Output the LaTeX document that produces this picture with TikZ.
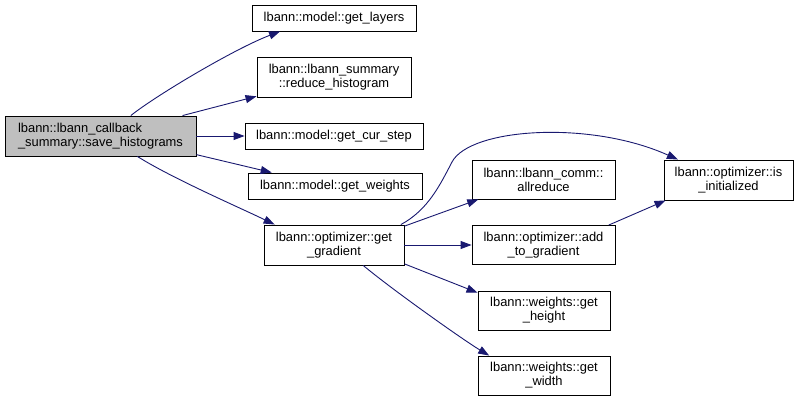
\documentclass[tikz,border=0pt]{standalone}
\usepackage{fontspec}
\setmainfont{Liberation Sans}
\usetikzlibrary{arrows.meta}
\definecolor{edgeblue}{HTML}{191970}
\definecolor{rootgray}{HTML}{BFBFBF}
\tikzset{
  fn/.style={draw=black, line width=0.9pt, fill=white, align=center, inner sep=0pt,
    font=\fontsize{12.9}{14}\selectfont},
  call/.style={draw=edgeblue, line width=0.9pt, -{Triangle[length=11pt,width=8pt,fill=edgeblue]}}
}
\begin{document}
\begin{tikzpicture}[x=1pt,y=-1pt]
\useasboundingbox (0,0) rectangle (803,401);
% functions
\node[fn, fill=rootgray, align=left, minimum width=191pt, minimum height=40pt] (save) at (100.5,136)
  {lbann::lbann\_callback\\\_summary::save\_histograms};
\node[fn, minimum width=164pt, minimum height=26pt] (layers) at (334,18) {lbann::model::get\_layers};
\node[fn, minimum width=154pt, minimum height=40pt] (reduce) at (334,77) {lbann::lbann\_summary\\::reduce\_histogram};
\node[fn, minimum width=178pt, minimum height=26pt] (curstep) at (334,136) {lbann::model::get\_cur\_step};
\node[fn, minimum width=174pt, minimum height=26pt] (weights) at (335,186) {lbann::model::get\_weights};
\node[fn, minimum width=140pt, minimum height=40pt] (gradient) at (334,245) {lbann::optimizer::get\\\_gradient};
\node[fn, minimum width=143pt, minimum height=39pt] (allreduce) at (543.5,179.5) {lbann::lbann\_comm::\\allreduce};
\node[fn, minimum width=143pt, minimum height=39pt] (addgrad) at (543.5,245) {lbann::optimizer::add\\\_to\_gradient};
\node[fn, minimum width=132pt, minimum height=39pt] (height) at (544,310.5) {lbann::weights::get\\\_height};
\node[fn, minimum width=132pt, minimum height=39pt] (width) at (544,375.5) {lbann::weights::get\\\_width};
\node[fn, minimum width=129pt, minimum height=40pt] (isinit) at (728.5,180) {lbann::optimizer::is\\\_initialized};
% calls
\draw[call] (save.34) .. controls +(25,-20) and +(-45,17) .. (layers.194);
\draw[call] (save.14) -- (reduce.194);
\draw[call] (save.east) -- (curstep.west);
\draw[call] (save.-11.5) -- (weights.168);
\draw[call] (save.-29) .. controls +(35,22) and +(-35,-17) .. (gradient.161);
\draw[call] (gradient.17) .. controls (428,210) and (440,185) .. (452,162)
  .. controls (470,128) and (590,120) .. (isinit.158);
\draw[call] (gradient.15) -- (allreduce.197);
\draw[call] (gradient.east) -- (addgrad.west);
\draw[call] (gradient.-15) -- (height.165);
\draw[call] (gradient.-35.5) .. controls +(30,25) and +(-25,-15) .. (width.160);
\draw[call] (addgrad.17.5) -- (isinit.198);
\end{tikzpicture}
\end{document}
